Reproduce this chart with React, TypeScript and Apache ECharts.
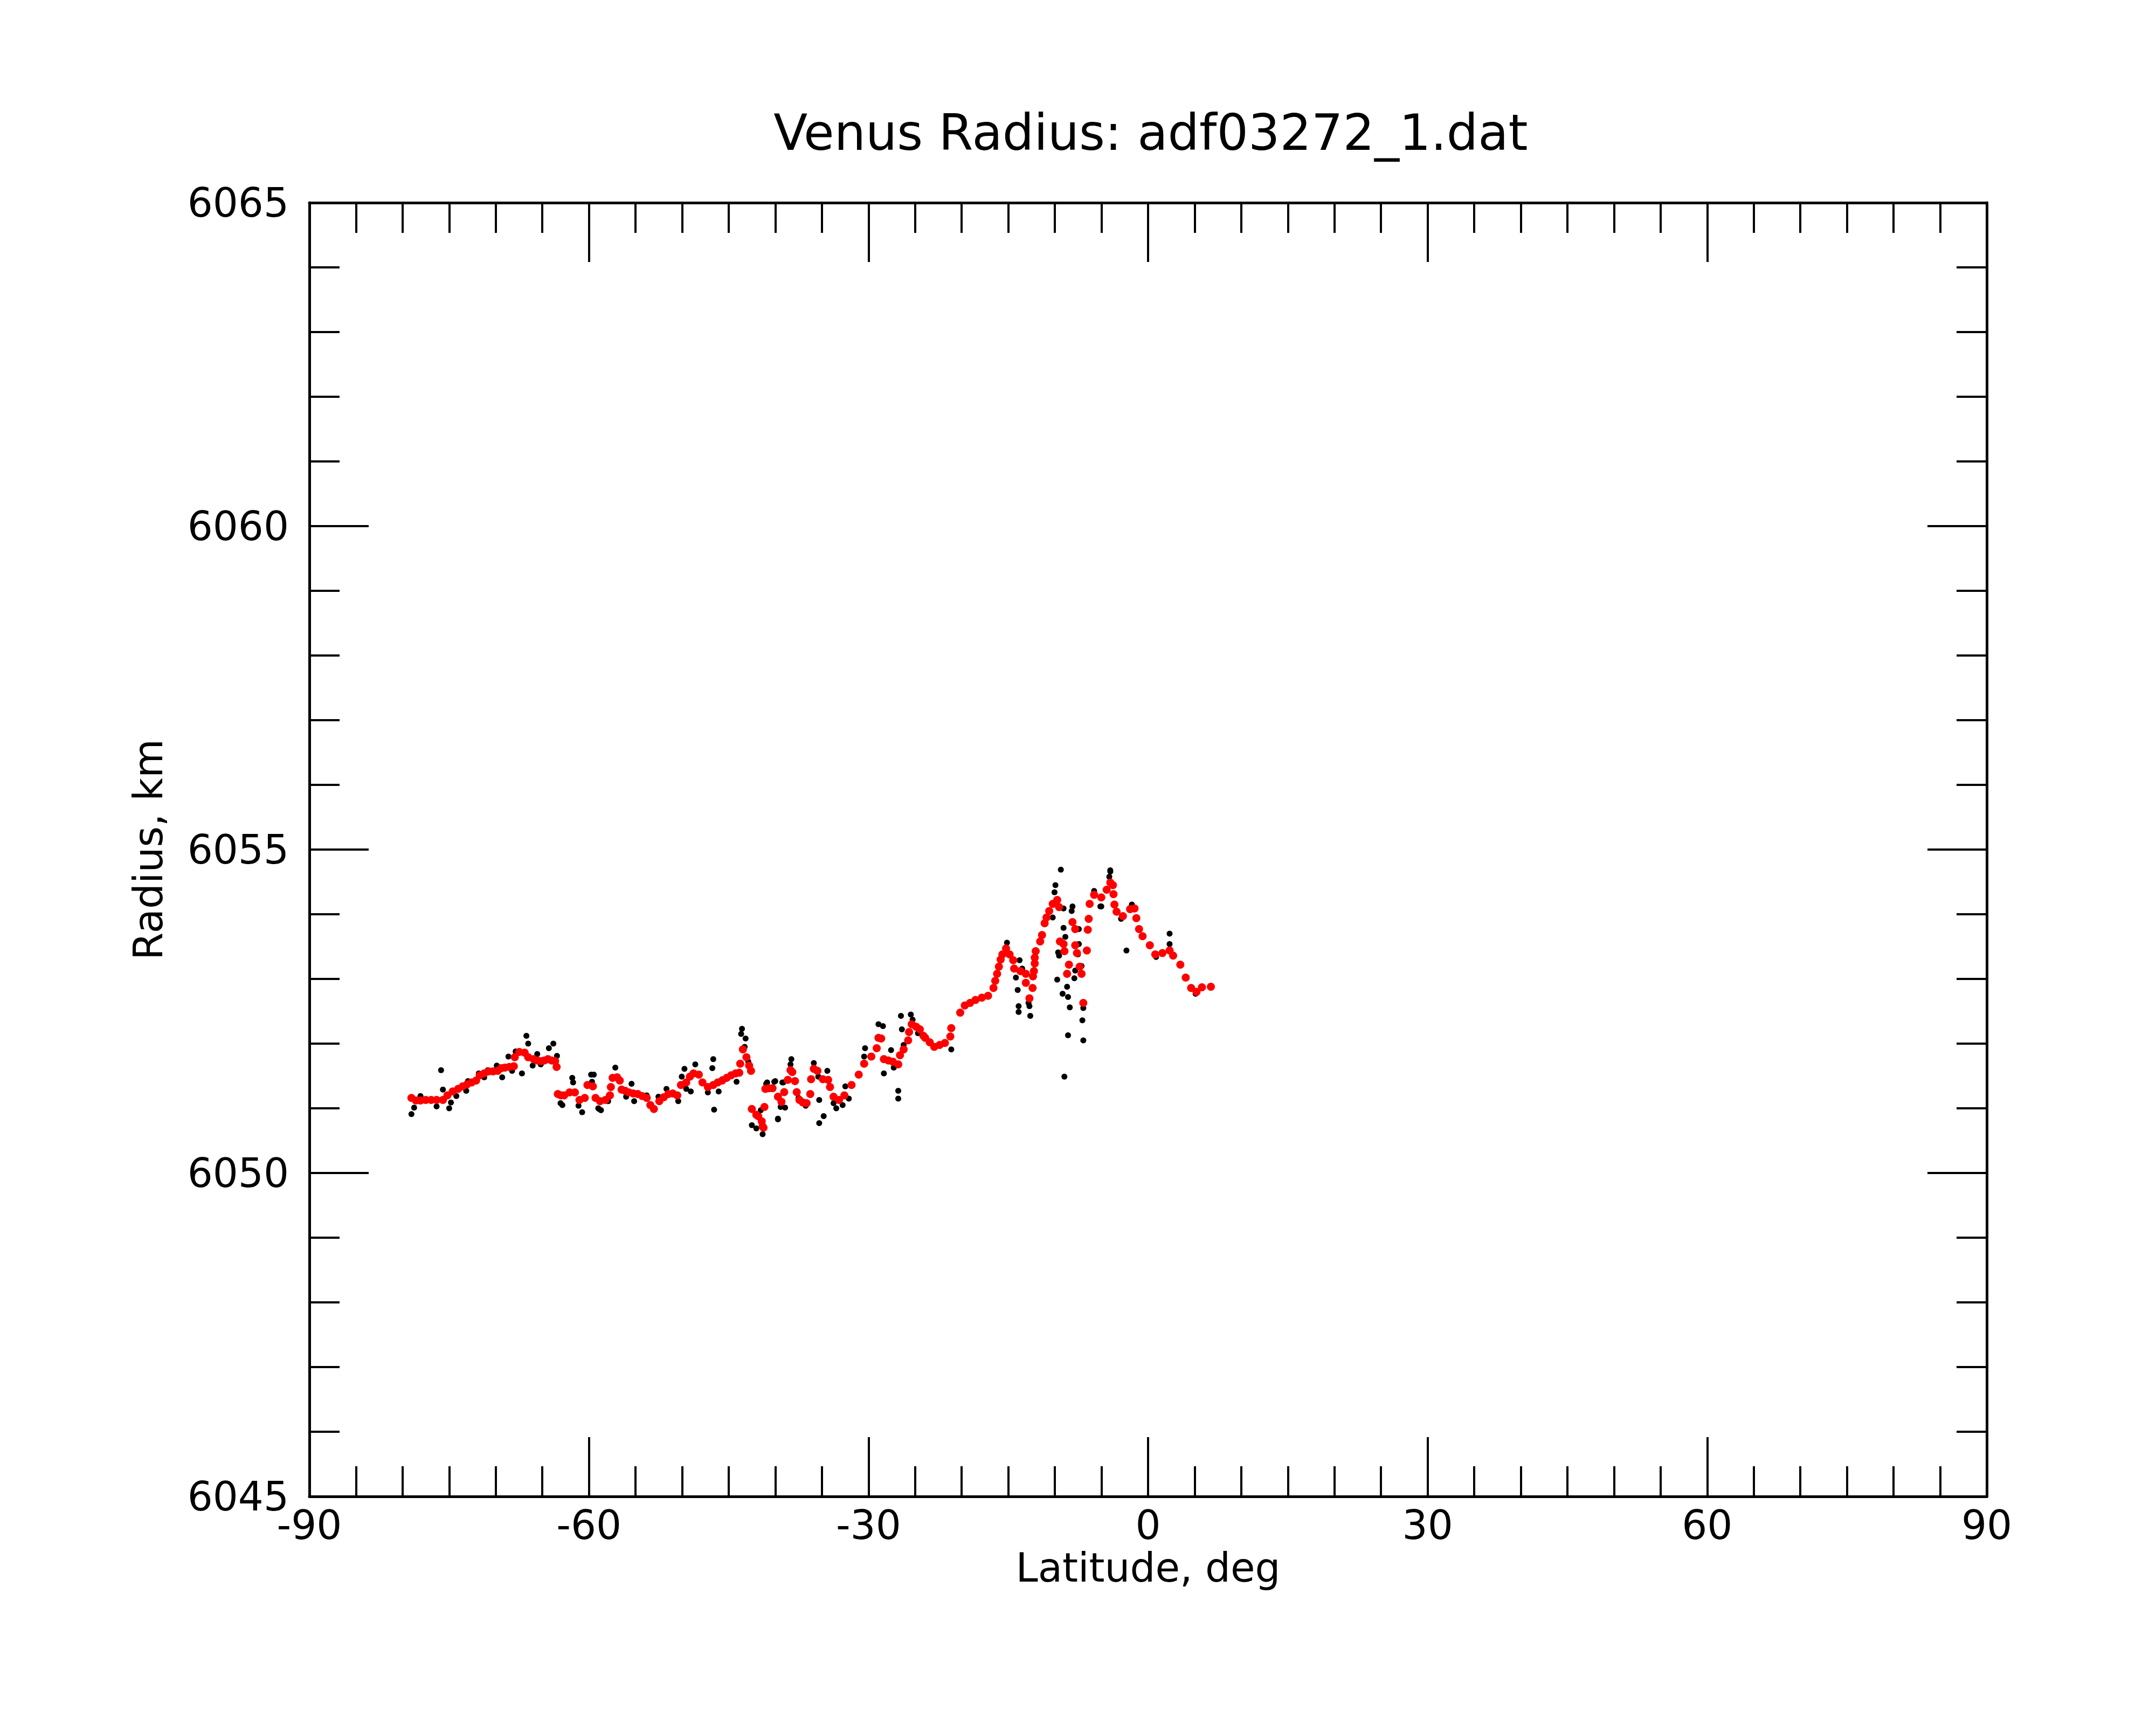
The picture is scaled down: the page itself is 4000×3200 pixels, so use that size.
import React, { useEffect, useRef } from "react";
import * as echarts from "echarts";

const titleText = "Venus Radius: adf03272_1.dat";
const xName = "Latitude, deg";
const yName = "Radius, km";

// Smoothed radius (red)
const redLat = [
  -79.05, -78.57, -78.08, -77.51, -76.93, -76.35, -75.67, -75.19, -74.62, -74.04,
  -73.55, -73.07, -72.59, -72.11, -71.72, -71.24, -70.76, -70.28, -69.79, -69.41,
  -69.02, -68.54, -68.06, -67.96, -67.48, -66.9, -66.52, -65.94, -65.55, -65.17,
  -64.78, -64.4, -64.01, -63.63, -63.47,
  -63.34, -63.01, -62.66, -62.08, -61.51, -61.02, -60.45, -60.16, -59.58, -59.29,
  -58.81, -58.23, -57.75, -57.65, -57.46, -56.98, -56.69, -56.5, -56.11, -55.72,
  -55.24, -54.76, -54.28, -53.8, -53.41, -53.03, -52.45, -51.97, -51.48, -51.0,
  -50.52, -50.13, -49.56, -49.17, -48.78, -48.21, -47.82, -47.24, -46.66, -46.18,
  -45.7, -45.22, -44.74, -44.26, -43.87, -43.77, -43.48, -43.1, -42.81, -42.61,
  -42.52, -42.04, -41.84, -41.46, -41.36, -41.27, -41.17, -41.07, -40.69, -40.3,
  -39.72, -39.34, -39.05, -38.66, -38.37, -38.18, -37.89, -37.7, -37.41, -37.02,
  -36.64, -36.25, -36.16, -35.87, -35.48, -34.9, -34.33, -34.13, -33.75, -33.17,
  -32.59, -31.82, -31.05, -30.47, -29.7, -29.12, -28.93, -28.64, -28.35, -27.87,
  -27.39, -26.81, -26.62, -26.23, -25.75, -25.65, -25.36, -24.88, -24.49, -24.11,
  -23.92, -23.43, -22.95, -22.37, -21.8, -21.22, -21.12, -20.16, -19.67, -19.1,
  -18.52, -17.84, -17.17, -16.59, -16.4, -16.2, -16.01, -15.82, -15.63, -15.24,
  -14.86, -14.47, -14.37, -13.7, -13.12, -13.12, -12.73, -12.39, -12.35, -12.25,
  -12.16, -12.16, -12.06, -11.58, -11.38, -11.1, -10.9, -10.61, -10.23, -9.75,
  -9.55, -9.46, -9.07, -8.97, -8.69, -8.49, -8.11, -7.82, -7.82, -7.63,
  -7.34, -7.14, -6.95, -6.57, -6.47, -6.37, -6.27, -5.79, -5.02, -4.44,
  -4.05, -3.77, -3.71, -3.61, -3.38, -2.7, -1.93, -1.45, -1.26, -0.97,
  -0.59, 0.19, 0.77, 1.54, 2.31, 2.69, 3.46, 4.04, 4.62, 5.2,
  5.78, 6.74,
];
const redRad = [
  6051.16, 6051.12, 6051.12, 6051.13, 6051.13, 6051.13, 6051.13, 6051.2, 6051.26, 6051.3,
  6051.34, 6051.37, 6051.4, 6051.43, 6051.51, 6051.54, 6051.57, 6051.57, 6051.58, 6051.62,
  6051.63, 6051.64, 6051.65, 6051.79, 6051.87, 6051.86, 6051.79, 6051.76, 6051.74, 6051.73,
  6051.74, 6051.76, 6051.74, 6051.73, 6051.64,
  6051.22, 6051.2, 6051.2, 6051.245, 6051.245, 6051.13, 6051.16, 6051.36, 6051.34, 6051.16,
  6051.11, 6051.13, 6051.2, 6051.33, 6051.47, 6051.48, 6051.43, 6051.29, 6051.27, 6051.245,
  6051.23, 6051.22, 6051.19, 6051.16, 6051.05, 6050.99, 6051.11, 6051.17, 6051.22, 6051.23,
  6051.2, 6051.36, 6051.4, 6051.49, 6051.54, 6051.52, 6051.4, 6051.33, 6051.36, 6051.4,
  6051.43, 6051.47, 6051.51, 6051.54, 6051.55, 6051.69, 6051.91, 6051.79, 6051.66, 6051.58,
  6050.99, 6050.9, 6050.88, 6050.8, 6050.72, 6050.7, 6051.02, 6051.3, 6051.31, 6051.31,
  6051.18, 6051.1, 6051.25, 6051.44, 6051.59, 6051.56, 6051.42, 6051.25, 6051.13, 6051.09,
  6051.08, 6051.22, 6051.45, 6051.61, 6051.58, 6051.45, 6051.44, 6051.33, 6051.18, 6051.13,
  6051.2, 6051.36, 6051.52, 6051.69, 6051.8, 6051.93, 6052.09, 6052.08, 6051.76, 6051.74,
  6051.72, 6051.68, 6051.82, 6051.91, 6052.05, 6052.18, 6052.3, 6052.26, 6052.22, 6052.12,
  6052.09, 6052.02, 6051.95, 6051.98, 6052.01, 6052.11, 6052.24, 6052.48, 6052.59, 6052.63,
  6052.675, 6052.71, 6052.74, 6052.86, 6052.97, 6053.08, 6053.19, 6053.3, 6053.38, 6053.47,
  6053.38, 6053.29, 6053.16, 6053.12, 6053.08, 6052.94, 6052.7, 6052.86, 6053.04, 6053.12,
  6053.24, 6053.33, 6053.43, 6053.58, 6053.68, 6053.86, 6053.95, 6054.05, 6054.16, 6054.22,
  6054.11, 6053.58, 6053.54, 6053.43, 6053.08, 6053.22, 6053.88, 6053.77, 6053.52, 6053.4,
  6053.19, 6053.08, 6052.63, 6053.44, 6053.76, 6053.93, 6054.16, 6054.3, 6054.26, 6054.38,
  6054.49, 6054.45, 6054.31, 6054.15, 6054.04, 6053.97, 6054.08, 6054.09, 6053.94, 6053.77,
  6053.66, 6053.52, 6053.38, 6053.4, 6053.44, 6053.36, 6053.22, 6053.02, 6052.86, 6052.8,
  6052.87, 6052.88,
];

// Raw radius samples (black)
const blackLat = [
  -79.05, -78.76, -78.08, -76.35, -75.87, -75.67, -75.0, -74.81, -74.23, -73.17,
  -72.98, -71.82, -71.24, -70.86, -69.89, -69.31, -68.64, -68.25, -67.87, -67.19,
  -66.71, -66.52, -66.04, -65.55, -65.17, -64.3, -63.82, -63.43, -63.05, -62.85,
  -61.79, -61.7, -61.12, -60.73, -59.77, -59.67, -59.0, -58.71, -57.17, -59.48,
  -58.91, -57.94, -55.43, -56.01, -55.15, -53.8, -52.54, -51.68, -50.42, -49.75,
  -50.04, -48.59, -49.07, -49.56, -46.66, -46.76, -46.57, -47.24, -46.08, -45.7,
  -44.16, -43.58, -43.67, -43.19, -43.29, -42.9, -42.52, -42.04, -41.36, -41.56,
  -40.88, -40.01, -39.14, -39.72, -39.43, -38.95, -38.28, -38.37, -37.12, -36.74,
  -40.98, -40.11, -39.24, -39.72, -37.51, -35.87, -35.39, -35.29, -34.81, -35.29,
  -34.42, -33.75, -33.46, -32.78, -32.49, -32.11, -30.37, -30.47, -28.93, -28.45,
  -28.35, -27.58, -27.29, -26.81, -26.81, -26.52, -26.42, -26.23, -25.46, -25.27,
  -24.69, -21.79, -21.12, -19.67, -15.14, -13.79, -13.51, -14.18, -13.99, -13.89,
  -13.89, -12.73, -12.64, -12.83, -10.23, -10.04, -9.94, -9.36, -9.07, -8.11,
  -8.2, -9.07, -7.43, -8.88, -9.65, -9.55, -7.43, -7.53, -7.82, -7.14,
  -9.75, -8.69, -9.17, -8.59, -7.91, -8.4, -6.95, -7.05, -8.59, -6.95,
  -8.98, -5.79, -5.02, -4.06, -4.16, -4.05, -5.12, -2.9, -2.32, -1.74,
  2.31, 2.31, 0.86, 5.1,
];
const blackRad = [
  6050.91, 6051.01, 6051.19, 6051.03, 6051.59, 6051.29, 6051.0, 6051.09, 6051.19, 6051.27,
  6051.42, 6051.54, 6051.48, 6051.59, 6051.66, 6051.48, 6051.8, 6051.58, 6051.88, 6051.54,
  6052.12, 6052.0, 6051.66, 6051.84, 6051.68, 6051.93, 6052.0, 6051.81, 6051.08, 6051.05,
  6051.47, 6051.4, 6051.04, 6050.94, 6051.52, 6051.41, 6051.0, 6050.97, 6051.63, 6051.52,
  6050.99, 6051.11, 6051.38, 6051.18, 6051.11, 6051.2, 6051.18, 6051.3, 6051.11, 6051.61,
  6051.49, 6051.68, 6051.26, 6051.3, 6051.76, 6051.62, 6050.98, 6051.245, 6051.26, 6051.45,
  6051.41, 6052.23, 6052.15, 6052.08, 6051.95, 6051.72, 6050.74, 6050.69, 6050.6, 6050.97,
  6051.4, 6051.42, 6051.4, 6050.84, 6051.02, 6051.01, 6051.76, 6051.68, 6051.08, 6051.04,
  6051.38, 6051.41, 6051.4, 6050.83, 6051.16, 6051.7, 6051.49, 6051.13, 6050.88, 6050.77,
  6051.58, 6051.08, 6051.0, 6051.05, 6051.34, 6051.15, 6051.93, 6051.8, 6052.3, 6052.27,
  6051.54, 6051.9, 6051.63, 6051.27, 6051.15, 6052.43, 6052.22, 6051.98, 6052.45, 6052.37,
  6052.16, 6052.01, 6051.91, 6052.58, 6053.56, 6053.29, 6053.16, 6053.02, 6052.83, 6052.58,
  6052.49, 6052.58, 6052.43, 6052.63, 6053.95, 6054.34, 6054.45, 6054.69, 6054.09, 6054.12,
  6054.05, 6053.79, 6053.77, 6053.65, 6053.41, 6053.36, 6053.54, 6053.38, 6053.13, 6053.2,
  6052.99, 6052.88, 6052.77, 6052.72, 6053.01, 6052.56, 6052.55, 6052.36, 6052.13, 6052.05,
  6051.49, 6054.36, 6054.12, 6054.68, 6054.58, 6054.66, 6054.12, 6053.93, 6053.44, 6054.15,
  6053.7, 6053.54, 6053.34, 6052.77,
];

const xMin = -90;
const xMax = 90;
const xStep = 30;
const yMin = 6045;
const yMax = 6065;
const yStep = 5;

const FONT = "DejaVu Sans";

function zip(a: number[], b: number[]) {
  return a.map((v, i) => [v, b[i]]);
}

export default function App() {
  const ref = useRef<HTMLDivElement>(null);
  useEffect(() => {
    document.body.style.margin = "0";
    if (!ref.current) return;
    const chart = echarts.init(ref.current, undefined, { renderer: "svg" });
    const lineStyle = { color: "#000", width: 5 };
    const tickStyle = { color: "#000", width: 4 };
    const mkX = (pos: "bottom" | "top") => ({
      type: "value",
      position: pos,
      min: xMin,
      max: xMax,
      interval: xStep,
      axisLine: { show: true, onZero: false, lineStyle },
      axisTick: { show: true, inside: true, length: 110, lineStyle: tickStyle },
      minorTick: { show: true, splitNumber: 6, length: 56, lineStyle: tickStyle },
      splitLine: { show: false },
      axisLabel: {
        show: pos === "bottom",
        fontSize: 74,
        fontFamily: FONT,
        color: "#000",
        margin: 16,
        showMinLabel: true,
        showMaxLabel: true,
        formatter: (v: number) => String(v),
      },
      ...(pos === "bottom"
        ? {
            name: xName,
            nameLocation: "middle",
            nameGap: 92,
            nameTextStyle: { fontSize: 74, fontFamily: FONT, color: "#000" },
          }
        : {}),
    });
    const mkY = (pos: "left" | "right") => ({
      type: "value",
      position: pos,
      min: yMin,
      max: yMax,
      interval: yStep,
      axisLine: { show: true, onZero: false, lineStyle },
      axisTick: { show: true, inside: true, length: 110, lineStyle: tickStyle },
      minorTick: { show: true, splitNumber: 5, length: 56, lineStyle: tickStyle },
      splitLine: { show: false },
      axisLabel: {
        show: pos === "left",
        fontSize: 74,
        fontFamily: FONT,
        color: "#000",
        margin: 38,
        showMinLabel: true,
        showMaxLabel: true,
        formatter: (v: number) => String(v),
      },
      ...(pos === "left"
        ? {
            name: yName,
            nameLocation: "middle",
            nameGap: 262,
            nameTextStyle: { fontSize: 74, fontFamily: FONT, color: "#000" },
          }
        : {}),
    });
    chart.setOption({
      animation: false,
      backgroundColor: "#fff",
      title: {
        text: titleText,
        left: 2130,
        top: 195,
        textAlign: "center",
        textStyle: { fontSize: 92, fontWeight: "normal", fontFamily: FONT, color: "#000" },
      },
      grid: { left: 574, top: 376, width: 3112, height: 2400, containLabel: false },
      xAxis: [mkX("bottom"), mkX("top")],
      yAxis: [mkY("left"), mkY("right")],
      series: [
        {
          type: "scatter",
          xAxisIndex: 0,
          yAxisIndex: 0,
          data: zip(blackLat, blackRad),
          symbol: "circle",
          symbolSize: 11,
          itemStyle: { color: "#000", opacity: 1 },
          silent: true,
        },
        {
          type: "scatter",
          xAxisIndex: 0,
          yAxisIndex: 0,
          data: zip(redLat, redRad),
          symbol: "circle",
          symbolSize: 15,
          itemStyle: { color: "#ff0000", opacity: 1 },
          silent: true,
        },
      ],
    });
    return () => chart.dispose();
  }, []);
  return <div ref={ref} style={{ width: 4000, height: 3200 }} />;
}
